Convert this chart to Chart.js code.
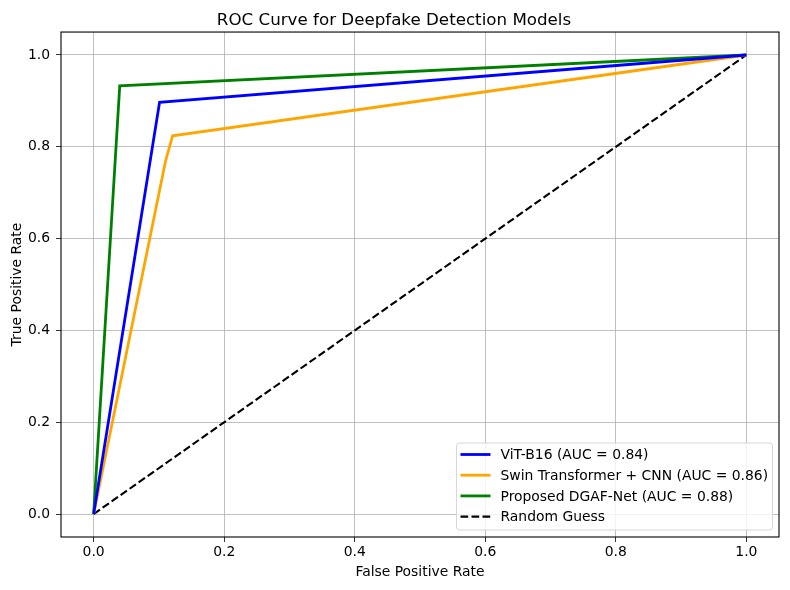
<!DOCTYPE html>
<html>
<head>
<meta charset="utf-8">
<script src="https://cdn.jsdelivr.net/npm/chart.js@4/dist/chart.umd.min.js"></script>
<style>
  html, body { margin: 0; padding: 0; background: #fff; }
  #wrap { width: 790px; height: 590px; }
</style>
</head>
<body>
<div id="wrap"><canvas id="rocChart" width="790" height="590"></canvas></div>
<script>
// ROC data
const vitFpr = [0, 0.101, 1];
const vitTpr = [0, 0.897, 1];
const swinFpr = [0, 0.110, 0.121, 1];
const swinTpr = [0, 0.768, 0.824, 1];
const dgafFpr = [0, 0.040, 1];
const dgafTpr = [0, 0.933, 1];
const guessFpr = [0, 1];
const guessTpr = [0, 1];
const tickValues = [0, 0.2, 0.4, 0.6, 0.8, 1.0];

const labels = [
    'ViT-B16 (AUC = 0.84)',
    'Swin Transformer + CNN (AUC = 0.86)',
    'Proposed DGAF-Net (AUC = 0.88)',
    'Random Guess'
];

const FONT = "'DejaVu Sans', sans-serif";

function toPoints(xs, ys) {
    return xs.map((x, i) => ({ x: x, y: ys[i] }));
}

// khung bao quanh vùng vẽ + chú thích trong góc
const framePlugin = {
    id: 'frame',
    afterDatasetsDraw(chart) {
        const { ctx, chartArea } = chart;
        ctx.save();
        ctx.strokeStyle = '#000';
        ctx.lineWidth = 1.1;
        ctx.strokeRect(chartArea.left, chartArea.top,
            chartArea.right - chartArea.left, chartArea.bottom - chartArea.top);
        ctx.restore();
    },
    afterDraw(chart) {
        const ctx = chart.ctx;
        const ds = chart.data.datasets;
        const boxR = chart.chartArea.right - 6.5;
        const boxB = chart.chartArea.bottom - 7;
        const boxW = 316, boxH = 87;
        const x0 = boxR - boxW, y0 = boxB - boxH;
        ctx.save();
        ctx.beginPath();
        ctx.roundRect(x0, y0, boxW, boxH, 3);
        ctx.fillStyle = 'rgba(255,255,255,0.8)';
        ctx.fill();
        ctx.strokeStyle = '#d6d6d6';
        ctx.lineWidth = 1;
        ctx.stroke();
        ctx.font = '13.9px ' + FONT;
        ctx.textBaseline = 'middle';
        ds.forEach((d, i) => {
            const cy = y0 + 11.5 + i * 20.7;
            ctx.beginPath();
            ctx.strokeStyle = d.borderColor;
            ctx.lineWidth = d.borderWidth;
            ctx.setLineDash(d.borderDash || []);
            ctx.moveTo(x0 + 4, cy);
            ctx.lineTo(x0 + 34, cy);
            ctx.stroke();
            ctx.setLineDash([]);
            ctx.fillStyle = '#000';
            ctx.fillText(d.label, x0 + 44, cy + 1);
        });
        ctx.restore();
    }
};

const ctx = document.getElementById('rocChart').getContext('2d');
new Chart(ctx, {
    type: 'line',
    data: {
        datasets: [
            { label: labels[0], data: toPoints(vitFpr, vitTpr), borderColor: '#0000ff', borderWidth: 2.8 },
            { label: labels[1], data: toPoints(swinFpr, swinTpr), borderColor: '#ffa500', borderWidth: 2.8 },
            { label: labels[2], data: toPoints(dgafFpr, dgafTpr), borderColor: '#008000', borderWidth: 2.8 },
            { label: labels[3], data: toPoints(guessFpr, guessTpr), borderColor: '#000000', borderWidth: 2.1, borderDash: [7.7, 3.3] }
        ]
    },
    options: {
        responsive: false,
        animation: false,
        parsing: false,
        elements: {
            point: { radius: 0 },
            line: { tension: 0, fill: false }
        },
        layout: { padding: { left: 9, right: 11, top: 0, bottom: 0 } },
        scales: {
            x: {
                type: 'linear',
                min: -0.05,
                max: 1.05,
                afterBuildTicks(axis) { axis.ticks = tickValues.map(v => ({ value: v })); },
                afterFit(axis) { axis.height = 53; },
                grid: { color: '#b0b0b0', lineWidth: 0.8, tickLength: 5, tickColor: '#000' },
                border: { display: false },
                ticks: {
                    color: '#000',
                    padding: 2,
                    font: { family: FONT, size: 13.9 },
                    maxRotation: 0,
                    callback: v => v.toFixed(1)
                },
                title: {
                    display: true,
                    text: 'False Positive Rate',
                    color: '#000',
                    font: { family: FONT, size: 13.9 },
                    padding: { top: 4, bottom: 9 }
                }
            },
            y: {
                type: 'linear',
                min: -0.05,
                max: 1.05,
                afterBuildTicks(axis) { axis.ticks = tickValues.map(v => ({ value: v })); },
                afterFit(axis) { axis.width = 52; },
                grid: { color: '#b0b0b0', lineWidth: 0.8, tickLength: 5, tickColor: '#000' },
                border: { display: false },
                ticks: {
                    color: '#000',
                    padding: 6,
                    font: { family: FONT, size: 13.9 },
                    callback: v => v.toFixed(1)
                },
                title: {
                    display: true,
                    text: 'True Positive Rate',
                    color: '#000',
                    font: { family: FONT, size: 13.9 },
                    padding: { top: 0, bottom: 2 }
                }
            }
        },
        plugins: {
            legend: { display: false },
            tooltip: { enabled: false },
            title: {
                display: true,
                text: 'ROC Curve for Deepfake Detection Models',
                color: '#000',
                font: { family: FONT, size: 16.7, weight: 'normal' },
                padding: { top: 11, bottom: 1 }
            }
        }
    },
    plugins: [framePlugin]
});
</script>
</body>
</html>
